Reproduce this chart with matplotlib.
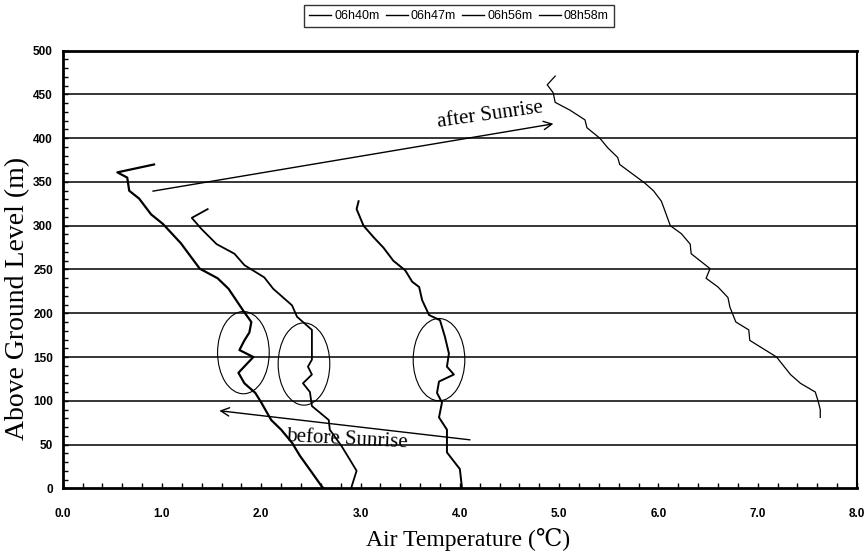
import matplotlib
matplotlib.use("Agg")
import matplotlib.pyplot as plt
from matplotlib.patches import Ellipse
from matplotlib.ticker import MultipleLocator, FormatStrFormatter

series_names = ["06h40m", "06h47m", "06h56m", "08h58m"]

t_0640 = [0.92, 0.55, 0.65, 0.67, 0.77, 0.89, 1.01, 1.19, 1.38, 1.56, 1.67, 1.83, 1.90, 1.88,
          1.83, 1.78, 1.92, 1.77, 1.83, 1.94, 2.00, 2.10, 2.20, 2.31, 2.39, 2.51, 2.61, 2.63]
h_0640 = [370, 361, 355, 340, 331, 313, 302, 280, 251, 240, 228, 201, 190, 178,
          169, 158, 150, 132, 120, 109, 98, 78, 67, 52, 37, 18, 2, 0]

t_0647 = [1.46, 1.30, 1.40, 1.55, 1.73, 1.83, 2.03, 2.12, 2.31, 2.36, 2.51, 2.51, 2.47, 2.51,
          2.42, 2.49, 2.51, 2.68, 2.69, 2.81, 2.88, 2.96, 2.91, 2.91]
h_0647 = [319, 309, 296, 279, 268, 255, 241, 228, 209, 196, 181, 147, 139, 130,
          120, 110, 94, 78, 67, 48, 35, 20, 2, 0]

t_0656 = [2.98, 2.96, 3.03, 3.13, 3.23, 3.33, 3.45, 3.52, 3.59, 3.62, 3.69, 3.80, 3.85, 3.89,
          3.87, 3.94, 3.79, 3.77, 3.82, 3.79, 3.87, 3.87, 4.00, 4.02, 4.02]
h_0656 = [328, 319, 300, 287, 275, 260, 249, 236, 230, 215, 198, 192, 173, 154,
          139, 130, 122, 109, 98, 81, 67, 41, 22, 2, 0]

t_0858 = [4.96, 4.88, 4.94, 4.96, 5.11, 5.26, 5.28, 5.41, 5.49, 5.59, 5.61, 5.86, 5.95, 6.03,
          6.12, 6.23, 6.32, 6.33, 6.52, 6.48, 6.60, 6.70, 6.72, 6.78, 6.91, 6.92, 7.19, 7.33,
          7.43, 7.58, 7.61, 7.63, 7.63]
h_0858 = [471, 461, 452, 441, 432, 421, 412, 400, 389, 378, 370, 349, 340, 328,
          300, 291, 279, 268, 251, 240, 230, 218, 207, 190, 181, 169, 150, 130,
          120, 110, 99, 90, 81]

# ellipse centres (temp, height), size (temp, height)
ell_t = [1.82, 2.43, 3.79]
ell_h = [155, 142, 147]
ell_w = 0.52
ell_hgt = 94

serif = ["Liberation Serif", "DejaVu Serif"]
sans = ["Liberation Sans", "DejaVu Sans"]

fig = plt.figure(figsize=(8.66, 5.54), dpi=100)
ax = fig.add_axes([62.7 / 866, 1 - 488.3 / 554, (857 - 62.7) / 866, (488.3 - 50.7) / 554])

ax.set_xlim(0, 8)
ax.set_ylim(0, 500)

for y in range(50, 500, 50):
    ax.axhline(y, color="black", lw=1.1, zorder=1)

lws = [1.6, 1.3, 1.4, 0.9]
data = [(t_0640, h_0640), (t_0647, h_0647), (t_0656, h_0656), (t_0858, h_0858)]
handles = []
for (t, h), name, lw in zip(data, series_names, lws):
    ln, = ax.plot(t, h, color="black", lw=lw, label=name, zorder=3)
    handles.append(ln)

for cx, cy in zip(ell_t, ell_h):
    ax.add_patch(Ellipse((cx, cy), ell_w, ell_hgt, fill=False, ec="black", lw=0.8, zorder=4))

ax.annotate("", xy=(4.97, 417), xytext=(0.88, 339),
            arrowprops=dict(arrowstyle="->", color="black", lw=1.0, mutation_scale=15))
ax.text(4.31, 426, "after Sunrise", family=serif, fontsize=15, rotation=8,
        ha="center", va="center")
ax.annotate("", xy=(1.55, 89), xytext=(4.13, 55),
            arrowprops=dict(arrowstyle="->", color="black", lw=1.0, mutation_scale=15))
ax.text(2.86, 55, "before Sunrise", family=serif, fontsize=15, rotation=-3,
        ha="center", va="center")

for side in ["left", "bottom", "top"]:
    ax.spines[side].set_linewidth(2.0)
ax.spines["right"].set_linewidth(1.5)

ax.xaxis.set_major_locator(MultipleLocator(1.0))
ax.xaxis.set_minor_locator(MultipleLocator(0.2))
ax.yaxis.set_major_locator(MultipleLocator(50))
ax.yaxis.set_minor_locator(MultipleLocator(10))
ax.xaxis.set_major_formatter(FormatStrFormatter("%.1f"))
ax.tick_params(axis="x", which="both", direction="in", length=3.5, width=1.0, top=False, pad=14.5)
ax.tick_params(axis="y", which="both", direction="in", length=3.5, width=1.0, right=False, pad=7)
for lab in ax.get_xticklabels() + ax.get_yticklabels():
    lab.set_family(sans)
    lab.set_fontweight("bold")
    lab.set_fontsize(8.5)

ax.set_xlabel("Air Temperature (℃)", family=serif, fontsize=17)
ax.xaxis.set_label_coords(0.51, -0.091)
ax.set_ylabel("Above Ground Level (m)", family=serif, fontsize=20)
ax.yaxis.set_label_coords(-0.041, 0.435)

leg = fig.legend(handles=handles, labels=series_names, loc="center", ncol=4,
                 bbox_to_anchor=(459 / 866, 1 - 16 / 554), frameon=True, fancybox=False,
                 edgecolor="black", handlelength=1.75, handletextpad=0.25, columnspacing=0.5,
                 borderpad=0.4, prop={"family": sans, "size": 9})
leg.get_frame().set_linewidth(1.0)
for l in leg.get_lines():
    l.set_linewidth(1.0)

fig.savefig("out.png", dpi=100)
